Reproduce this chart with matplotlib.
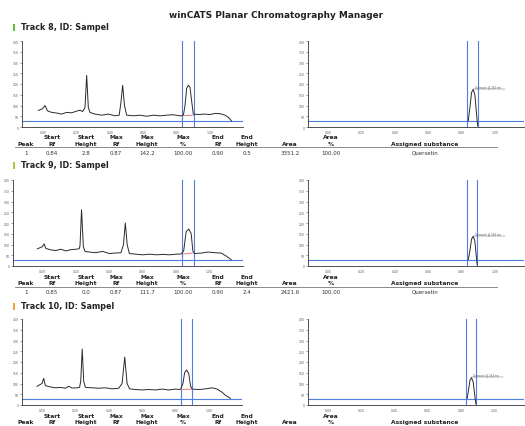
import matplotlib
matplotlib.use("Agg")
import matplotlib.pyplot as plt

W, H = 525, 427
DPI = 100

# ---------------- data ----------------
title = "winCATS Planar Chromatography Manager"
track_titles = ["Track 8, ID: Sampel", "Track 9, ID: Sampel", "Track 10, ID: Sampel"]
track_colors = ["#5cbf3c", "#a6c83a", "#f0a030"]

# densitogram (left panels): Rf positions and intensity (AU)
rf8 = [-0.03, -0.005, 0.01, 0.025, 0.05, 0.08, 0.11, 0.14, 0.17, 0.20, 0.22, 0.235, 0.25, 0.26, 0.27, 0.28,
       0.31, 0.35, 0.39, 0.43, 0.455, 0.465, 0.476, 0.487, 0.50, 0.54, 0.58, 0.62, 0.66, 0.70, 0.74, 0.78,
       0.82, 0.84, 0.85, 0.86, 0.87, 0.88, 0.89, 0.90, 0.93, 0.97, 1.00, 1.03, 1.06, 1.09, 1.11, 1.13]
au8 = [77, 85, 100, 75, 68, 65, 60, 68, 66, 74, 78, 72, 90, 240, 90, 68,
       60, 55, 60, 52, 55, 110, 194, 100, 55, 52, 55, 50, 55, 52, 55, 57,
       52, 53, 100, 180, 194, 185, 120, 60, 58, 60, 58, 63, 62, 55, 45, 28]

rf9 = [-0.03, 0.0, 0.01, 0.02, 0.05, 0.08, 0.11, 0.14, 0.17, 0.20, 0.22, 0.225, 0.234, 0.245, 0.255,
       0.29, 0.32, 0.36, 0.40, 0.43, 0.47, 0.485, 0.496, 0.507, 0.52, 0.56, 0.60, 0.64, 0.68, 0.72,
       0.76, 0.80, 0.83, 0.845, 0.86, 0.876, 0.89, 0.90, 0.91, 0.95, 0.99, 1.03, 1.07, 1.10, 1.13]
au9 = [80, 90, 103, 82, 75, 72, 78, 70, 76, 78, 80, 95, 262, 90, 68,
       64, 62, 68, 58, 60, 62, 100, 200, 100, 58, 55, 52, 55, 52, 54,
       52, 55, 56, 70, 160, 172, 150, 70, 58, 60, 65, 62, 60, 46, 29]

rf10 = [-0.03, 0.0, 0.01, 0.02, 0.05, 0.08, 0.11, 0.14, 0.16, 0.18, 0.21, 0.225, 0.232, 0.241, 0.25,
        0.26, 0.30, 0.34, 0.38, 0.42, 0.46, 0.48, 0.496, 0.51, 0.525, 0.56, 0.60, 0.64, 0.68, 0.72,
        0.76, 0.80, 0.83, 0.845, 0.855, 0.867, 0.88, 0.89, 0.90, 0.94, 0.98, 1.02, 1.05, 1.08, 1.10, 1.13]
au10 = [87, 100, 124, 90, 84, 80, 82, 78, 87, 79, 80, 82, 110, 260, 110,
        82, 80, 78, 80, 75, 78, 100, 223, 100, 75, 72, 70, 72, 70, 74,
        70, 74, 72, 100, 150, 163, 145, 90, 74, 72, 75, 80, 74, 59, 45, 31]

left_rf = [rf8, rf9, rf10]
left_au = [au8, au9, au10]
left_baseline = [28, 29, 29]           # blue baseline level
peak_window = [(0.834, 0.902), (0.836, 0.906), (0.833, 0.902)]   # integration limits (blue verticals)
peak_base = [(0.84, 53, 0.90, 55), (0.845, 56, 0.90, 60), (0.833, 72, 0.90, 74)]

# assigned-peak panels (right)
right_rf = [[0.84, 0.85, 0.86, 0.87, 0.88, 0.89, 0.897],
            [0.84, 0.85, 0.86, 0.87, 0.88, 0.888, 0.894],
            [0.838, 0.846, 0.855, 0.864, 0.874, 0.883, 0.89]]
right_au = [[28, 90, 160, 175, 150, 60, 5],
            [29, 70, 125, 138, 115, 50, 5],
            [31, 70, 115, 127, 108, 50, 5]]
right_window = [(0.834, 0.90), (0.83, 0.894), (0.828, 0.894)]
peak_label = "Quersetin @ 254 nm"

xticks = [0.0, 0.2, 0.4, 0.6, 0.8, 1.0]
xticklabels = ["0.00", "0.20", "0.40", "0.60", "0.80", "1.00"]
yticks = [0, 50, 100, 150, 200, 250, 300, 350, 400]

headers1 = ["", "Start", "Start", "Max", "Max", "Max", "End", "End", "", "Area", ""]
headers2 = ["Peak", "Rf", "Height", "Rf", "Height", "%", "Rf", "Height", "Area", "%", "Assigned substance"]
rows = [["1", "0.84", "2.8", "0.87", "142.2", "100.00", "0.90", "0.5", "3351.2", "100.00", "Quersetin"],
        ["1", "0.85", "0.0", "0.87", "111.7", "100.00", "0.90", "2.4", "2421.6", "100.00", "Quersetin"],
        None]

# ---------------- layout (pixels) ----------------
col_x = [26, 52, 86, 116, 147, 183, 218, 247, 290, 331, 425]
# left axes: (x_left, x_right, y_top, y_bottom, xlim_lo, xlim_hi)
left_boxes = [(22, 243, 42, 128, -0.128, 1.198),
              (13, 243, 181, 267, -0.176, 1.20),
              (22, 242, 320, 406, -0.12, 1.199)]
right_boxes = [(308, 524, 42, 128, -0.122, 1.175),
               (308, 524, 181, 267, -0.122, 1.175),
               (308, 524, 320, 406, -0.12, 1.18)]
track_y = [28, 166, 307]
table_y = [(138, 145, 148, 153), (278, 284, 288, 292), (417, 423, 427, 432)]

BLUE = "#4f7fdc"
FONT = "DejaVu Sans"

fig = plt.figure(figsize=(W / DPI, H / DPI), dpi=DPI)
fig.patch.set_facecolor("white")
bg = fig.add_axes([0, 0, 1, 1])
bg.set_xlim(0, W)
bg.set_ylim(H, 0)
bg.axis("off")

bg.text(276, 15, title, ha="center", va="center", fontsize=6.4, fontweight="bold", family=FONT, color="#222222")


def rect(x0, x1, yt, yb):
    return [x0 / W, 1 - yb / H, (x1 - x0) / W, (yb - yt) / H]


def style_axis(ax, xlo, xhi):
    ax.set_xlim(xlo, xhi)
    ax.set_ylim(0, 400)
    for s in ["top", "right"]:
        ax.spines[s].set_visible(False)
    for s in ["left", "bottom"]:
        ax.spines[s].set_linewidth(0.6)
        ax.spines[s].set_color("#333333")
    ax.set_xticks(xticks)
    ax.set_xticklabels(xticklabels)
    ax.set_yticks(yticks)
    ax.set_yticklabels([str(v) for v in yticks])
    ax.tick_params(axis="x", length=0, labelsize=2.2, pad=2, colors="#555555")
    ax.tick_params(axis="y", length=1.5, width=0.4, labelsize=2.2, pad=1, colors="#555555")
    ax.set_facecolor("none")


for i in range(3):
    # track header
    bg.add_patch(plt.Rectangle((13, track_y[i] - 3.5), 2.2, 7.5, color=track_colors[i], lw=0))
    bg.text(21, track_y[i], track_titles[i], ha="left", va="center", fontsize=5.75,
            fontweight="bold", family=FONT, color="#222222")

    # left densitogram
    x0, x1, yt, yb, xlo, xhi = left_boxes[i]
    ax = fig.add_axes(rect(x0, x1, yt, yb))
    style_axis(ax, xlo, xhi)
    ax.axhline(left_baseline[i], color=BLUE, lw=0.8)
    for v in peak_window[i]:
        ax.axvline(v, color=BLUE, lw=0.8)
    ax.plot(left_rf[i], left_au[i], color="#2a2a2a", lw=0.7)
    pb = peak_base[i]
    ax.plot([pb[0], pb[2]], [pb[1], pb[3]], color="#e87878", lw=0.7)

    # right assigned peak
    x0, x1, yt, yb, xlo, xhi = right_boxes[i]
    ax2 = fig.add_axes(rect(x0, x1, yt, yb))
    style_axis(ax2, xlo, xhi)
    ax2.axhline(left_baseline[i], color=BLUE, lw=0.8)
    for v in right_window[i]:
        ax2.axvline(v, color=BLUE, lw=0.8)
    ax2.plot(right_rf[i], right_au[i], color="#2a2a2a", lw=0.7)
    pk = max(right_au[i])
    pr = right_rf[i][right_au[i].index(pk)]
    ax2.plot([pr, pr + 0.19], [pk + 2, pk + 2], color="#555555", lw=0.3)
    ax2.text(pr + 0.01, pk + 4, peak_label, fontsize=1.8, color="#555555", ha="left", va="bottom")

    # table
    h1, h2, ln, dr = table_y[i]
    for j in range(len(col_x)):
        if headers1[j]:
            bg.text(col_x[j], h1, headers1[j], ha="center", va="center", fontsize=4.3,
                    fontweight="bold", family=FONT, color="#222222")
        bg.text(col_x[j], h2, headers2[j], ha="center", va="center", fontsize=4.3,
                fontweight="bold", family=FONT, color="#222222")
        if rows[i] is not None:
            bg.text(col_x[j], dr + 0.5, rows[i][j], ha="center", va="center", fontsize=4.0,
                    family=FONT, color="#333333")
    bg.plot([15, 497], [ln, ln], color="#777777", lw=0.6)

fig.savefig("out.png", dpi=DPI, facecolor="white")
